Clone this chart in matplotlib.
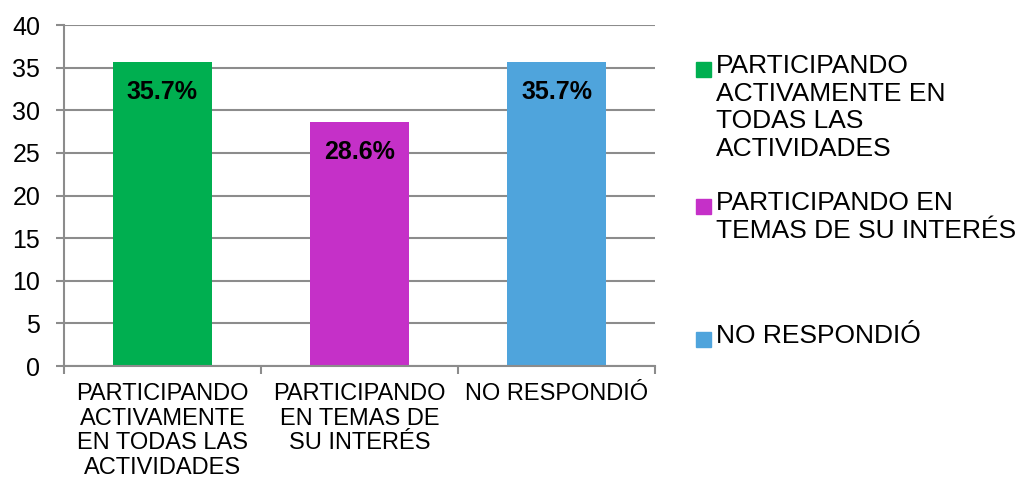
import matplotlib.pyplot as plt
from matplotlib.patches import Rectangle

# datos
categorias = ['PARTICIPANDO\nACTIVAMENTE\nEN TODAS LAS\nACTIVIDADES',
              'PARTICIPANDO\nEN TEMAS DE\nSU INTERÉS',
              'NO RESPONDIÓ']
leyenda = ['PARTICIPANDO\nACTIVAMENTE EN\nTODAS LAS\nACTIVIDADES',
           'PARTICIPANDO EN\nTEMAS DE SU INTERÉS',
           'NO RESPONDIÓ']
valores = [35.7, 28.6, 35.7]
etiquetas = ['35.7%', '28.6%', '35.7%']
colores = ['#00AF50', '#C530C8', '#4FA4DC']
yticks = [0, 5, 10, 15, 20, 25, 30, 35, 40]

plt.rcParams['font.family'] = ['Liberation Sans', 'DejaVu Sans']

fig = plt.figure(figsize=(10.22, 4.84), dpi=100)
ax = fig.add_axes([0.0626, 0.2438, 0.5783, 0.7045])

x = range(len(valores))
ax.bar(x, valores, width=0.5, color=colores, zorder=2)
for i, v in enumerate(valores):
    ax.annotate(etiquetas[i], (i, v), xytext=(0, -21.5), textcoords='offset points',
                ha='center', va='center', fontsize=18, fontweight='bold', zorder=3)

ax.set_xlim(-0.5, 2.5)
ax.set_ylim(0, 40)
ax.set_yticks(yticks)
ax.yaxis.grid(True, color='#8c8c8c', linewidth=1.5, zorder=0)
ax.tick_params(axis='y', labelsize=18, colors='#8c8c8c', labelcolor='black',
               length=6, width=1.5, pad=11)
ax.set_xticks(list(x))
ax.set_xticklabels(categorias, fontsize=17, linespacing=1.17)
ax.tick_params(axis='x', which='major', length=0, pad=12)
ax.set_xticks([-0.5, 0.5, 1.5, 2.5], minor=True)
ax.tick_params(axis='x', which='minor', length=6, width=1.5, color='#8c8c8c')

for s in ['top', 'right']:
    ax.spines[s].set_visible(False)
for s in ['left', 'bottom']:
    ax.spines[s].set_color('#8c8c8c')
    ax.spines[s].set_linewidth(1.5)

# leyenda manual
tops = [0.8887, 0.6056, 0.3308]
for lab, col, t in zip(leyenda, colores, tops):
    fig.text(0.7006, t, lab, fontsize=19, va='top', ha='left', linespacing=1.2)
    fig.patches.append(Rectangle((0.681, t - 0.0475), 0.0147, 0.031,
                                 transform=fig.transFigure, color=col))

plt.savefig('out.png', dpi=100)
